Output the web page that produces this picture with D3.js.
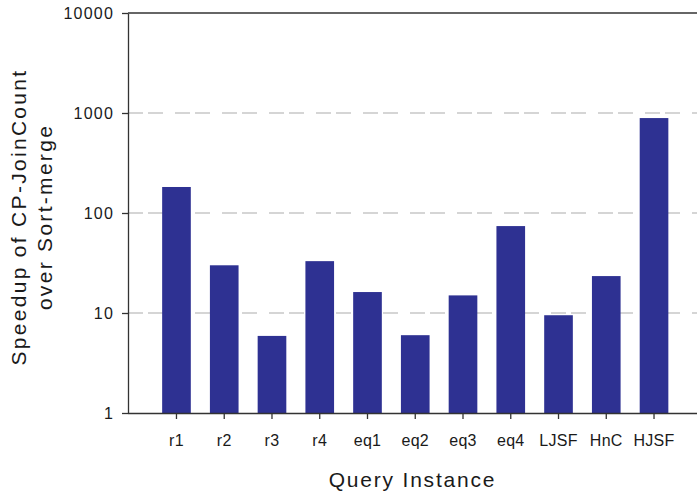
<!DOCTYPE html>
<html>
<head>
<meta charset="utf-8">
<script src="https://cdn.jsdelivr.net/npm/d3@7"></script>
<style>
  body { margin: 0; background: #fff; }
  svg { display: block; font-family: "Liberation Sans", Arial, sans-serif; }
  .grid line { stroke: #c8c8c8; stroke-width: 1.5; stroke-dasharray: 15,5,15,12; }
  .axis path, .axis line { stroke: #333; stroke-width: 1.3; }
  .axis text { fill: #1a1a1a; }
</style>
</head>
<body>
<div id="chart"></div>
<script>
const categories = ["r1", "r2", "r3", "r4", "eq1", "eq2", "eq3", "eq4", "LJSF", "HnC", "HJSF"];
const speedups = [182, 30, 5.9, 33, 16.2, 6.0, 15, 74, 9.5, 23.4, 890];
const y_ticks = [1, 10, 100, 1000, 10000];

const width = 697, height = 498;
const plot_left = 128, plot_right = 697, plot_top = 13, plot_bottom = 413;

const svg = d3.select("#chart").append("svg")
  .attr("width", width)
  .attr("height", height);

const x = d3.scaleBand()
  .domain(categories)
  .range([152.6, 677.9])
  .paddingInner(0.4)
  .paddingOuter(0.2);

const y = d3.scaleLog()
  .domain([1, 10000])
  .range([plot_bottom, plot_top]);

// dashed grid
svg.append("g")
  .classed("grid", true)
  .selectAll("line")
  .data([10, 100, 1000])
  .join("line")
    .attr("x1", plot_left)
    .attr("x2", plot_right)
    .attr("y1", d => y(d))
    .attr("y2", d => y(d));

// bars
svg.append("g")
  .selectAll("rect")
  .data(categories)
  .join("rect")
    .attr("x", d => x(d))
    .attr("width", x.bandwidth())
    .attr("y", (d, i) => y(speedups[i]))
    .attr("height", (d, i) => y(1) - y(speedups[i]))
    .attr("fill", "#2e3192");

// top border
svg.append("line")
  .attr("x1", plot_left).attr("x2", plot_right)
  .attr("y1", y(10000)).attr("y2", y(10000))
  .attr("stroke", "#333").attr("stroke-width", 1.3);

const y_axis = svg.append("g")
  .classed("axis", true)
  .attr("transform", `translate(${plot_left},0)`)
  .call(d3.axisLeft(y).tickValues(y_ticks).tickFormat(d3.format("d")).tickSize(6).tickSizeOuter(0));
y_axis.selectAll("text")
  .attr("x", -14)
  .style("font-size", "16px")
  .style("letter-spacing", "1.2px");

const x_axis = svg.append("g")
  .classed("axis", true)
  .attr("transform", `translate(0,${plot_bottom})`)
  .call(d3.axisBottom(x).tickSize(6).tickSizeOuter(0));
x_axis.select(".domain").attr("d", `M${plot_left},0.5H${plot_right}`);
x_axis.selectAll("text")
  .attr("y", 33)
  .attr("dy", null)
  .style("font-size", "16px")
  .style("letter-spacing", "0.3px");

// axis titles
svg.append("text")
  .attr("x", (plot_left + plot_right) / 2)
  .attr("y", 487)
  .attr("text-anchor", "middle")
  .style("font-size", "21px")
  .style("letter-spacing", "1.8px")
  .attr("fill", "#1a1a1a")
  .text("Query Instance");

const y_title = ["Speedup of CP-JoinCount", "over Sort-merge"];
svg.append("g")
  .selectAll("text")
  .data(y_title)
  .join("text")
    .attr("transform", (d, i) => `translate(${26 + i * 26},217) rotate(-90)`)
    .attr("text-anchor", "middle")
    .style("font-size", "21px")
    .style("letter-spacing", "2.3px")
    .attr("fill", "#1a1a1a")
    .text(d => d);
</script>
</body>
</html>
